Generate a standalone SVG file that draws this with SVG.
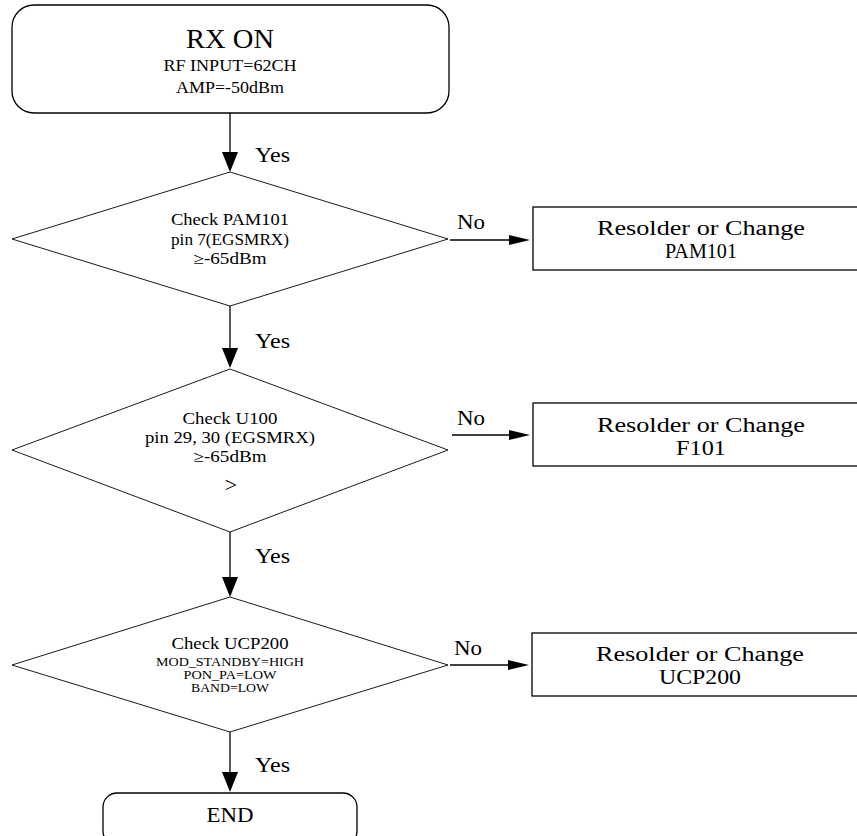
<svg xmlns="http://www.w3.org/2000/svg" width="857" height="836" viewBox="0 0 857 836">
<style>
.shape{fill:#fff;stroke:#000;stroke-width:1.3}
.dia{fill:#fff;stroke:#000;stroke-width:0.9}
.ln{stroke:#000;stroke-width:1.3;fill:none}
.ah{fill:#000;stroke:none}
text{font-family:"Liberation Serif","DejaVu Serif",serif;fill:#000;text-anchor:middle}
.t20{font-size:20px}
.t16{font-size:16px}
.t12{font-size:12px}
.lbl{font-size:20px;text-anchor:start}
</style>
<rect width="857" height="836" fill="#fff"/>
<g id="connectors">
  <line class="ln" x1="230" y1="113" x2="230" y2="154"/>
  <path class="ah" d="M222,152 L238,152 L230,172 Z"/>
  <line class="ln" x1="230" y1="306" x2="230" y2="350"/>
  <path class="ah" d="M222,348 L238,348 L230,368 Z"/>
  <line class="ln" x1="230" y1="532" x2="230" y2="579"/>
  <path class="ah" d="M222,577 L238,577 L230,597 Z"/>
  <line class="ln" x1="230" y1="732" x2="230" y2="774"/>
  <path class="ah" d="M222,772 L238,772 L230,792 Z"/>
  <line class="ln" x1="450" y1="240" x2="512" y2="240"/>
  <path class="ah" d="M509,235 L530,240 L509,245 Z"/>
  <line class="ln" x1="452" y1="435" x2="512" y2="435"/>
  <path class="ah" d="M509,430 L530,435 L509,440 Z"/>
  <line class="ln" x1="450" y1="665" x2="511" y2="665"/>
  <path class="ah" d="M508,660 L529,665 L508,670 Z"/>
  <text class="lbl" x="255" y="162" textLength="35" lengthAdjust="spacingAndGlyphs">Yes</text>
  <text class="lbl" x="255" y="348" textLength="35" lengthAdjust="spacingAndGlyphs">Yes</text>
  <text class="lbl" x="255" y="563" textLength="35" lengthAdjust="spacingAndGlyphs">Yes</text>
  <text class="lbl" x="255" y="772" textLength="35" lengthAdjust="spacingAndGlyphs">Yes</text>
  <text class="lbl" x="457" y="229" textLength="28" lengthAdjust="spacingAndGlyphs">No</text>
  <text class="lbl" x="457" y="425" textLength="28" lengthAdjust="spacingAndGlyphs">No</text>
  <text class="lbl" x="454" y="655" textLength="28" lengthAdjust="spacingAndGlyphs">No</text>
</g>
<g id="start">
  <rect class="shape" x="12" y="5" width="437" height="108" rx="22" ry="22"/>
  <text x="230" y="48" style="font-size:28px" textLength="88" lengthAdjust="spacingAndGlyphs">RX ON</text>
  <text class="t16" x="230" y="71" textLength="133" lengthAdjust="spacingAndGlyphs">RF INPUT=62CH</text>
  <text class="t16" x="230" y="93" textLength="108" lengthAdjust="spacingAndGlyphs">AMP=-50dBm</text>
</g>
<g id="check1">
  <path class="dia" d="M230,172 L448,239 L230,306 L12,239 Z"/>
  <text class="t16" x="230" y="225" textLength="118" lengthAdjust="spacingAndGlyphs">Check PAM101</text>
  <text class="t16" x="230" y="245" textLength="118" lengthAdjust="spacingAndGlyphs">pin 7(EGSMRX)</text>
  <text class="t16" x="230" y="264" textLength="73" lengthAdjust="spacingAndGlyphs">≥-65dBm</text>
</g>
<g id="fix1">
  <rect class="shape" x="533" y="207" width="340" height="63"/>
  <text class="t20" x="701" y="235" textLength="208" lengthAdjust="spacingAndGlyphs">Resolder or Change</text>
  <text class="t20" x="701" y="258" textLength="72" lengthAdjust="spacingAndGlyphs">PAM101</text>
</g>
<g id="check2">
  <path class="dia" d="M230,369 L448,450 L230,532 L12,450 Z"/>
  <text class="t16" x="230" y="424" textLength="95" lengthAdjust="spacingAndGlyphs">Check U100</text>
  <text class="t16" x="230" y="443" textLength="170" lengthAdjust="spacingAndGlyphs">pin 29, 30 (EGSMRX)</text>
  <text class="t16" x="230" y="462" textLength="73" lengthAdjust="spacingAndGlyphs">≥-65dBm</text>
  <text x="231" y="492" style="font-size:22px">&gt;</text>
</g>
<g id="fix2">
  <rect class="shape" x="533" y="403" width="340" height="63"/>
  <text class="t20" x="701" y="432" textLength="208" lengthAdjust="spacingAndGlyphs">Resolder or Change</text>
  <text class="t20" x="701" y="455" textLength="50" lengthAdjust="spacingAndGlyphs">F101</text>
</g>
<g id="check3">
  <path class="dia" d="M230,597 L448,665 L230,732 L12,665 Z"/>
  <text class="t16" x="230" y="649" textLength="117" lengthAdjust="spacingAndGlyphs">Check UCP200</text>
  <text class="t12" x="230" y="666" textLength="148" lengthAdjust="spacingAndGlyphs">MOD_STANDBY=HIGH</text>
  <text class="t12" x="230" y="679" textLength="93" lengthAdjust="spacingAndGlyphs">PON_PA=LOW</text>
  <text class="t12" x="230" y="692" textLength="78" lengthAdjust="spacingAndGlyphs">BAND=LOW</text>
</g>
<g id="fix3">
  <rect class="shape" x="532" y="633" width="340" height="63"/>
  <text class="t20" x="700" y="661" textLength="208" lengthAdjust="spacingAndGlyphs">Resolder or Change</text>
  <text class="t20" x="700" y="684" textLength="82" lengthAdjust="spacingAndGlyphs">UCP200</text>
</g>
<g id="end">
  <rect class="shape" x="103" y="793" width="254" height="52" rx="14" ry="14"/>
  <text x="230" y="822" style="font-size:20px" textLength="47" lengthAdjust="spacingAndGlyphs">END</text>
</g>
</svg>
